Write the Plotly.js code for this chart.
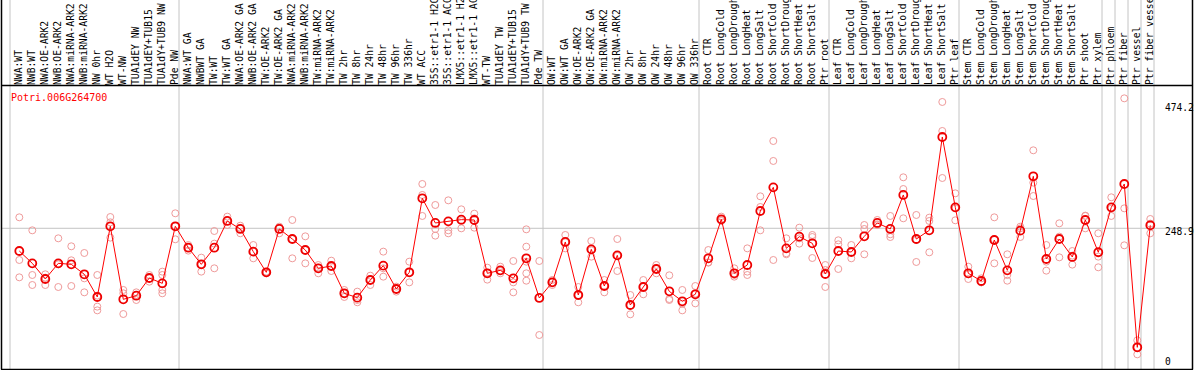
<!DOCTYPE html>
<html>
<head>
<meta charset="utf-8">
<script src="https://cdn.plot.ly/plotly-3.0.1.min.js"></script>
<style>html,body{margin:0;padding:0;background:#fff;overflow:hidden}#chart{width:1194px;height:370px}</style>
</head>
<body>
<div id="chart"></div>
<script>
const geneTitle = "Potri.006G264700";
const categories = [
"NWA:WT","NWB:WT","NWA:OE-ARK2","NWB:OE-ARK2","NWA:miRNA-ARK2","NWB:miRNA-ARK2","NW 0hr","WT H2O","WT-NW","TUA1dEY NW","TUA1dEY+TUB15","TUA1dY+TUB9 NW","Pde NW",
"NWA:WT GA","NWBWT GA","TW:WT","TW:WT GA","NWA:OE-ARK2 GA","NWB:OE-ARK2 GA","TW:OE-ARK2","TW:OE-ARK2 GA","NWA:miRNA-ARK2","NWB:miRNA-ARK2","TW:miRNA-ARK2","TW:miRNA-ARK2","TW 2hr","TW 8hr","TW 24hr","TW 48hr","TW 96hr","TW 336hr","WT ACC","35S::etr1-1 H2O","35S::etr1-1 ACC","LMX5::etr1-1 H2O","LMX5::etr1-1 ACC","WT-TW","TUA1dEY TW","TUA1dEY+TUB15","TUA1dY+TUB9 TW","Pde TW",
"OW:WT","OW:WT GA","OW:OE-ARK2","OW:OE-ARK2 GA","OW:miRNA-ARK2","OW:miRNA-ARK2","OW 2hr","OW 8hr","OW 24hr","OW 48hr","OW 96hr","OW 336hr",
"Root CTR","Root LongCold","Root LongDrought","Root LongHeat","Root LongSalt","Root ShortCold","Root ShortDrought","Root ShortHeat","Root ShortSalt","Ptr root",
"Leaf CTR","Leaf LongCold","Leaf LongDrought","Leaf LongHeat","Leaf LongSalt","Leaf ShortCold","Leaf ShortDrought","Leaf ShortHeat","Leaf ShortSalt","Ptr leaf",
"Stem CTR","Stem LongCold","Stem LongDrought","Stem LongHeat","Stem LongSalt","Stem ShortCold","Stem ShortDrought","Stem ShortHeat","Stem ShortSalt","Ptr shoot","Ptr xylem",
"Ptr phloem","Ptr fiber","Ptr vessel","Ptr fiber vessel"
];
const meanValues = [
205.4,181.8,151.8,181.8,179.9,160.8,117.4,252.7,112.9,119.9,153.7,143.5,252.7,
211.8,179.9,211.8,262.9,247.6,204.2,164.6,247.6,228.4,207.3,172.3,176.7,124.4,116.1,149.9,177.4,132.7,164.6,306.3,259.1,262.2,265.4,264.8,162.7,168.4,153.1,191.4,115.5,
145.4,222.7,121.2,208.6,138.4,197.1,102.0,136.5,171.0,128.2,109.1,122.5,
191.4,266.1,162.7,178.6,282.0,327.3,210.5,232.9,220.1,161.4,
205.4,203.5,233.5,259.1,247.6,312.7,228.4,245.0,423.7,289.0,
162.7,148.0,226.5,168.4,244.4,348.4,190.1,228.4,194.0,264.8,203.0,
289.0,333.7,21.0,254.6
];
const replicateValues = [
[269.9,188.2,155.0],[245.0,159.5,140.3],[160.8,154.4,140.3],[229.7,179.9,136.5],[214.4,187.6,138.4],[201.6,153.1,126.3],[159.5,119.9,98.9,91.8],[270.5,260.3,231.0],[130.8,124.4,84.8],[126.3,121.2,111.6],[159.5,153.1,146.7],[165.9,159.5,130.8,124.4],[277.6,252.7,227.8],
[216.9,211.8,206.1],[192.7,179.9,165.9],[243.7,219.5,172.3],[271.2,262.9,255.2],[253.9,248.8,239.3],[216.9,204.2,191.4],[165.9,164.6,162.7],[252.0,250.1,239.3],[264.8,228.4,191.4],[233.5,207.3,181.8],[178.6,173.5,162.7],[186.9,175.4,167.1],[130.8,124.4,117.4],[127.6,111.6,107.2],[158.2,149.9,140.3],[204.2,172.3,156.3],[137.2,132.7,127.6],[185.0,164.6,145.4],[333.7,312.7,272.5],[293.5,247.6,234.8],[302.4,245.0,239.3],[285.2,262.9,248.8],[276.9,268.0,250.1],[173.5,164.0,150.6],[175.4,167.1,162.7],[186.3,145.4,126.3],[246.9,213.7,185.0,162.7,148.6],[186.3,115.5,44.6],
[149.9,145.4,140.3],[236.1,222.0,210.5],[136.5,121.2,107.2],[224.6,206.7,194.6],[149.9,139.1,126.3],[228.4,195.9,167.1],[121.2,100.8,84.2],[149.9,137.2,122.5],[178.6,171.6,162.7],[158.9,113.5,111.6],[130.8,104.6,91.8],[138.4,123.8,105.2],
[207.3,183.7,183.1],[271.2,264.8,262.9],[172.3,159.5,156.3],[210.5,165.9,159.5],[310.1,289.7,245.0],[416.0,377.8,188.2],[229.7,201.0,199.1],[250.1,229.7,219.5],[236.1,232.2,192.0],[178.6,169.1,136.5],
[225.9,218.2,171.0],[216.9,202.9,191.4],[255.2,247.6,199.1],[264.8,256.5,255.2],[272.5,237.4,232.2],[346.5,324.1,268.0],[274.4,226.5,184.4],[269.3,262.9,202.9],[490.7,435.2,345.2],[315.8,287.1,264.2],
[175.4,160.8,151.8],[153.1,145.4,145.4],[269.9,227.8,181.8],[199.1,159.5,148.6],[252.0,248.8,232.2],[398.2,336.3,310.7],[216.9,185.0,167.8],[258.4,232.9,193.3],[205.4,196.5,179.3],[273.1,272.5,248.8],[239.3,194.6,174.2],
[308.2,286.5,272.5],[497.7,287.1,216.3],[34.4,21.0,7.6],[266.7,257.8,239.3]
];
// number of categories preceding each group separator
const groupBreaks = [0,13,41,53,63,73,84,85,86,87,88];
const yTickValues = [474.2, 248.9, 0];
const yTickText = ["474.2", "248.9", "0"];
const gridValue = 248.9;

const W = 1194, H = 370, TOP = 86;
const plotH = H - TOP;
const pyPaper = py => (H - py) / plotH;
const pxPaper = px => px / W;

const xIdx = categories.map((_, i) => i + 1);
const repX = [], repY = [];
replicateValues.forEach((arr, i) => arr.forEach(v => { repX.push(i + 1); repY.push(v); }));

const mono = "DejaVu Sans Mono, Liberation Mono, monospace";

const traces = [
  {
    x: repX, y: repY, type: "scatter", mode: "markers",
    marker: { symbol: "circle-open", size: 7, color: "#ef9a9a", line: { width: 1, color: "#ef9a9a" } },
    hoverinfo: "skip", showlegend: false
  },
  {
    x: xIdx, y: meanValues, type: "scatter", mode: "lines+markers",
    line: { color: "#ff0000", width: 1 },
    marker: { symbol: "circle-open", size: 8, color: "#ee0000", line: { width: 1.8, color: "#ee0000" } },
    hoverinfo: "skip", showlegend: false
  }
];

const shapes = [];
groupBreaks.forEach(k => {
  shapes.push({ type: "line", xref: "x", yref: "paper", x0: k + 0.285, x1: k + 0.285,
    y0: pyPaper(369.5), y1: pyPaper(0), line: { color: "#c4c4c4", width: 1 }, layer: "below" });
});
shapes.push({ type: "line", xref: "paper", yref: "y", x0: pxPaper(1), x1: pxPaper(1192), y0: gridValue, y1: gridValue,
  line: { color: "#c4c4c4", width: 1 }, layer: "below" });
// frame
shapes.push({ type: "line", xref: "paper", yref: "paper", x0: pxPaper(1.5), x1: pxPaper(1.5), y0: pyPaper(369.5), y1: pyPaper(0), line: { color: "#000", width: 1.5 } });
shapes.push({ type: "line", xref: "paper", yref: "paper", x0: pxPaper(1192.5), x1: pxPaper(1192.5), y0: pyPaper(369.5), y1: pyPaper(0), line: { color: "#000", width: 1.5 } });
shapes.push({ type: "line", xref: "paper", yref: "paper", x0: pxPaper(1), x1: pxPaper(1193), y0: pyPaper(369.5), y1: pyPaper(369.5), line: { color: "#000", width: 1.5 } });
shapes.push({ type: "line", xref: "paper", yref: "paper", x0: pxPaper(1), x1: pxPaper(1193), y0: pyPaper(85.5), y1: pyPaper(85.5), line: { color: "#000", width: 1.5 } });

const yShifts = [3.3, -3.4, -3.4];
const annotations = yTickValues.map((v, i) => ({
  xref: "paper", yref: "y", x: pxPaper(1163), y: v, xanchor: "left", yanchor: "middle",
  yshift: yShifts[i], text: yTickText[i], showarrow: false,
  font: { family: mono, size: 9.6, color: "#000" }
}));
annotations.push({
  xref: "paper", yref: "paper", x: pxPaper(9), y: pyPaper(97.3), xanchor: "left", yanchor: "middle",
  text: geneTitle, showarrow: false, font: { family: mono, size: 10, color: "#ff0000" }
});

const layout = {
  width: W, height: H,
  margin: { l: 0, r: 0, t: TOP, b: 0, pad: 0 },
  paper_bgcolor: "#fff", plot_bgcolor: "#fff",
  showlegend: false,
  xaxis: {
    range: [-0.485, 91.362], side: "top", tickmode: "array", tickvals: xIdx, ticktext: categories,
    tickangle: -90, ticks: "", showgrid: false, zeroline: false, showline: false, fixedrange: true,
    tickfont: { family: mono, size: 9.7, color: "#000" }, automargin: false
  },
  yaxis: {
    range: [-22.4, 521.3], showgrid: false, zeroline: false, showline: false, showticklabels: false,
    ticks: "", fixedrange: true, automargin: false
  },
  shapes: shapes,
  annotations: annotations
};

Plotly.newPlot("chart", traces, layout, { displayModeBar: false, staticPlot: true });
</script>
</body>
</html>
